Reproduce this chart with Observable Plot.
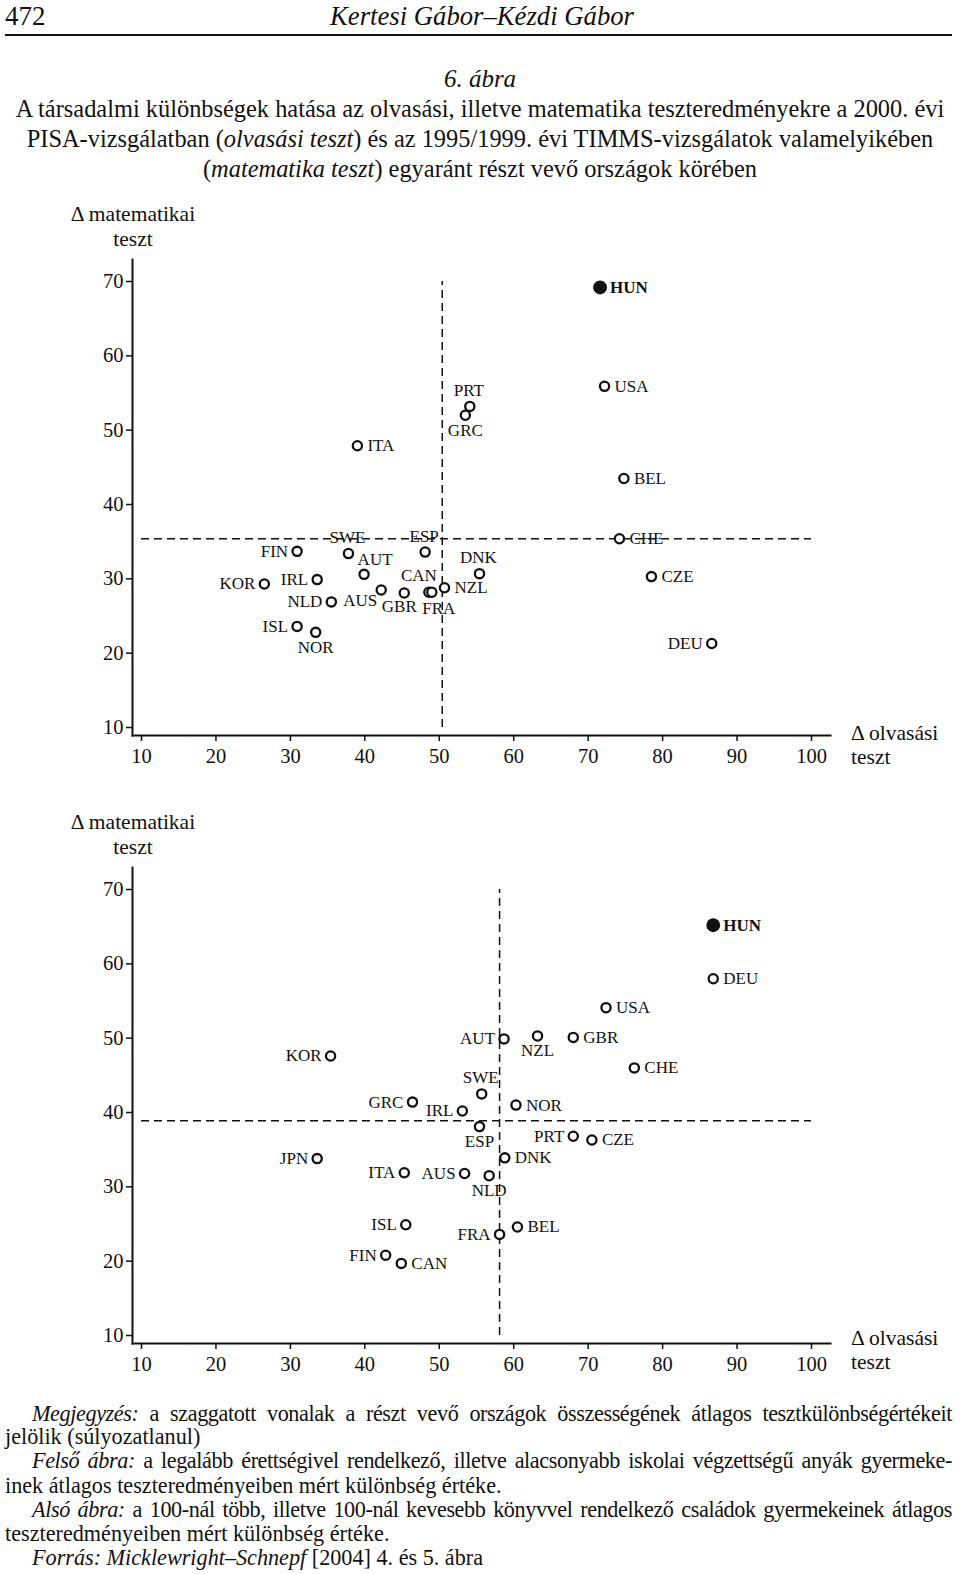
<!DOCTYPE html>
<html><head><meta charset="utf-8">
<script src="https://cdn.jsdelivr.net/npm/d3@7"></script>
<script src="https://cdn.jsdelivr.net/npm/@observablehq/plot@0.6"></script>
<style>
body{margin:0;background:#fff;}
#page{position:relative;width:960px;height:1574px;overflow:hidden;font-family:"Liberation Serif","Times New Roman",serif;color:#111;}
.a{position:absolute;white-space:nowrap;}
.c{left:0;width:960px;text-align:center;}
.cap{font-size:22.2px;line-height:24px;height:24px;}
.j{left:32px;width:920px;text-align:justify;text-align-last:justify;letter-spacing:-0.4px;}
.lf{left:5px;}
.ind{left:32px;}
.svgbox{position:absolute;left:0;}
</style></head><body><div id="page">
<div class="a" style="left:5px;top:1px;font-size:27px;line-height:30px;">472</div>
<div class="a c" style="top:1px;font-size:26.7px;line-height:30px;font-style:italic;padding-left:2px;">Kertesi Gábor–Kézdi Gábor</div>
<div class="a" style="left:5px;top:34px;width:947px;height:2px;background:#111;"></div>
<div class="a c" style="top:64px;font-size:25px;line-height:30px;font-style:italic;">6. ábra</div>
<div class="a c" style="top:94px;font-size:24.4px;line-height:30px;">A társadalmi különbségek hatása az olvasási, illetve matematika teszteredményekre a 2000. évi</div>
<div class="a c" style="top:124px;font-size:24.4px;line-height:30px;">PISA-vizsgálatban (<i>olvasási teszt</i>) és az 1995/1999. évi TIMMS-vizsgálatok valamelyikében</div>
<div class="a c" style="top:154px;font-size:24.4px;line-height:30px;">(<i>matematika teszt</i>) egyaránt részt vevő országok körében</div>

<div class="a" style="left:33px;width:200px;text-align:center;top:202px;font-size:21.5px;line-height:25px;">Δ matematikai<br>teszt</div>
<div class="a" style="left:851px;top:721px;font-size:21.5px;line-height:24px;">Δ olvasási<br>teszt</div>
<div class="svgbox" id="chart1" style="top:251px;"></div>

<div class="a" style="left:33px;width:200px;text-align:center;top:810px;font-size:21.5px;line-height:25px;">Δ matematikai<br>teszt</div>
<div class="a" style="left:851px;top:1326px;font-size:21.5px;line-height:24px;">Δ olvasási<br>teszt</div>
<div class="svgbox" id="chart2" style="top:859px;"></div>

<div class="a cap j" style="top:1402px;"><i>Megjegyzés:</i> a szaggatott vonalak a részt vevő országok összességének átlagos tesztkülönbségértékeit</div>
<div class="a cap lf" style="top:1425px;">jelölik (súlyozatlanul)</div>
<div class="a cap j" style="top:1449px;"><i>Felső ábra:</i> a legalább érettségivel rendelkező, illetve alacsonyabb iskolai végzettségű anyák gyermeke-</div>
<div class="a cap lf" style="top:1474px;">inek átlagos teszteredményeiben mért különbség értéke.</div>
<div class="a cap j" style="top:1498px;"><i>Alsó ábra:</i> a 100-nál több, illetve 100-nál kevesebb könyvvel rendelkező családok gyermekeinek átlagos</div>
<div class="a cap lf" style="top:1522px;">teszteredményeiben mért különbség értéke.</div>
<div class="a cap ind" style="top:1546px;"><i>Forrás: Micklewright–Schnepf</i> [2004] 4. és 5. ábra</div>
</div>
<script>
// Axis ticks
const xTicks = [10, 20, 30, 40, 50, 60, 70, 80, 90, 100];
const yTicks = [10, 20, 30, 40, 50, 60, 70];
const xDomain = [10, 100];
const yDomain = [10, 70];

// Upper chart: mothers' education (reading diff vs maths diff)
const codes1 = ["HUN","USA","PRT","GRC","ITA","BEL","FIN","SWE","ESP","CHE","AUT","DNK","KOR","IRL","CAN","NZL","CZE","NLD","AUS","GBR","FRA","ISL","NOR","DEU"];
const reading1 = [71.6,72.2,54.1,53.5,39.0,74.8,30.9,37.8,48.1,74.2,39.9,55.4,26.5,33.6,48.6,50.7,78.5,35.5,42.2,45.3,49.0,30.9,33.4,86.6];
const math1 = [69.2,55.9,53.2,52.0,47.9,43.5,33.7,33.4,33.6,35.4,30.6,30.7,29.3,29.9,28.2,28.8,30.3,26.9,28.5,28.1,28.2,23.6,22.8,21.3];
const meanReading1 = 50.4;
const meanMath1 = 35.4;

// Lower chart: books at home
const codes2 = ["HUN","DEU","USA","KOR","AUT","NZL","GBR","CHE","SWE","GRC","IRL","NOR","ESP","PRT","CZE","JPN","DNK","ITA","AUS","NLD","ISL","FRA","BEL","FIN","CAN"];
const reading2 = [86.8,86.8,72.4,35.4,58.7,63.2,68.0,76.2,55.7,46.4,53.1,60.3,55.4,68.0,70.5,33.6,58.8,45.3,53.4,56.7,45.5,58.1,60.5,42.8,44.9];
const math2 = [65.2,58.0,54.1,47.6,49.9,50.3,50.1,46.0,42.5,41.4,40.2,41.0,38.1,36.8,36.3,33.8,33.9,31.9,31.8,31.5,24.9,23.6,24.6,20.8,19.7];
const meanReading2 = 58.1;
const meanMath2 = 38.9;

// Label placement (style, kept apart from the data)
const labelPlace1 = {HUN:"r",USA:"r",PRT:"t",GRC:"b",ITA:"r",BEL:"r",FIN:"l",SWE:"t",ESP:"t",CHE:"r",AUT:"tr",DNK:"t",KOR:"l",IRL:"l",CAN:"tl",NZL:"r",CZE:"r",NLD:"l",AUS:"bl",GBR:"bL",FRA:"bR",ISL:"l",NOR:"b",DEU:"l"};
const labelPlace2 = {HUN:"r",DEU:"r",USA:"r",KOR:"l",AUT:"l",NZL:"b",GBR:"r",CHE:"r",SWE:"t",GRC:"l",IRL:"l",NOR:"r",ESP:"b",PRT:"l",CZE:"r",JPN:"l",DNK:"r",ITA:"l",AUS:"l",NLD:"b",ISL:"l",FRA:"l",BEL:"r",FIN:"l",CAN:"r"};
const placeStyle = {
  r:{textAnchor:"start",dx:10,dy:0},
  l:{textAnchor:"end",dx:-9,dy:0},
  t:{textAnchor:"middle",dx:-1,dy:-16},
  b:{textAnchor:"middle",dx:0,dy:15},
  bL:{textAnchor:"middle",dx:-5,dy:14},
  bR:{textAnchor:"middle",dx:7,dy:16},
  tr:{textAnchor:"middle",dx:11,dy:-15},
  tl:{textAnchor:"middle",dx:-10,dy:-17},
  bl:{textAnchor:"end",dx:-4,dy:11}
};

function makeChart(codes, reading, math, meanX, meanY, place) {
  const rows = codes.map((c, i) => ({code: c, x: reading[i], y: math[i], place: place[c]}));
  const labelMarks = Object.entries(placeStyle).map(([k, o]) =>
    Plot.text(rows.filter(d => d.place === k && d.code !== "HUN"),
      {x: "x", y: "y", text: "code", fontSize: 17, fill: "#111", ...o}));
  const hunRows = rows.filter(d => d.code === "HUN");
  return Plot.plot({
    width: 960, height: 530,
    marginLeft: 132, marginRight: 130, marginTop: 8, marginBottom: 46,
    x: {domain: xDomain, insetLeft: 9, insetRight: 19},
    y: {domain: yDomain, insetTop: 22, insetBottom: 8},
    style: {fontFamily: '"Liberation Serif", "Times New Roman", serif', fontSize: "20.5px", color: "#111", background: "transparent", overflow: "visible"},
    marks: [
      Plot.axisX(xTicks, {tickSize: 6, tickPadding: 7, label: null, fontSize: 20.5, strokeWidth: 1.5}),
      Plot.axisY(yTicks, {tickSize: 6, tickPadding: 3, label: null, fontSize: 20.5, strokeWidth: 1.5}),
      Plot.frame({anchor: "left", strokeWidth: 2, stroke: "#111"}),
      Plot.frame({anchor: "bottom", strokeWidth: 2, stroke: "#111"}),
      Plot.ruleY([meanY], {x1: xDomain[0], x2: xDomain[1], stroke: "#111", strokeWidth: 1.5, strokeDasharray: "8,5"}),
      Plot.ruleX([meanX], {y1: yDomain[0], y2: yDomain[1], stroke: "#111", strokeWidth: 1.5, strokeDasharray: "8,5"}),
      Plot.dot(rows.filter(d => d.code !== "HUN"), {x: "x", y: "y", r: 4.6, stroke: "#111", strokeWidth: 2.3, fill: "white"}),
      Plot.dot(hunRows, {x: "x", y: "y", r: 6.2, fill: "#111", stroke: "#111"}),
      ...labelMarks,
      Plot.text(hunRows, {x: "x", y: "y", text: "code", fontSize: 17, fontWeight: "bold", fill: "#111", ...placeStyle[hunRows[0].place]})
    ]
  });
}

document.getElementById("chart1").appendChild(makeChart(codes1, reading1, math1, meanReading1, meanMath1, labelPlace1));
document.getElementById("chart2").appendChild(makeChart(codes2, reading2, math2, meanReading2, meanMath2, labelPlace2));
</script>
</body></html>
